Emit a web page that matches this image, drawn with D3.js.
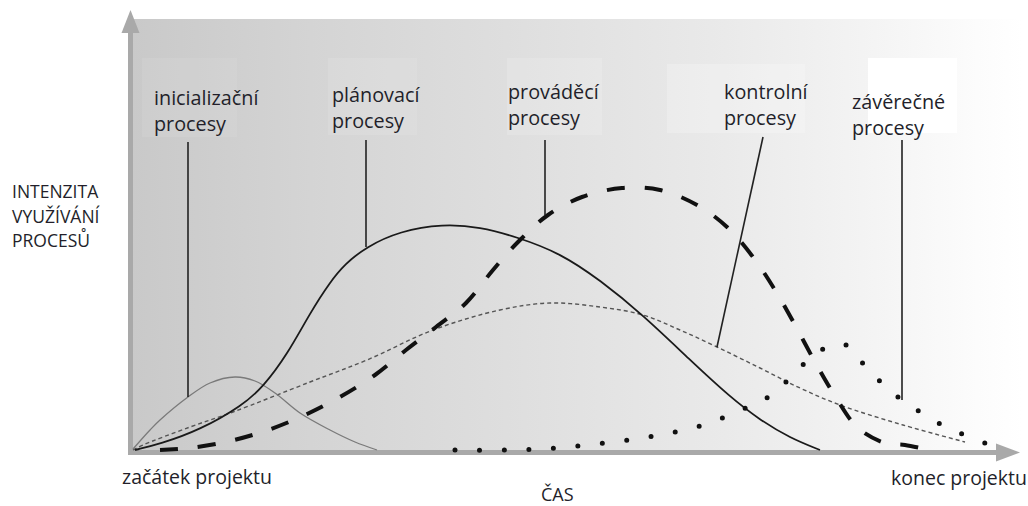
<!DOCTYPE html>
<html>
<head>
<meta charset="utf-8">
<script src="https://cdn.jsdelivr.net/npm/d3@7"></script>
<style>
  body { margin: 0; background: #fff; }
  svg { display: block; }
  text { font-family: "Open Sans", sans-serif; fill: #231f2a; }
</style>
</head>
<body>
<svg id="chart" width="1028" height="506"></svg>
<script>
// Process-group intensity over project time (time 0–88.8, intensity 0–43)
const initiating = [[0.1,0.1],[1.8,2.0],[2.8,3.0],[5.6,5.3],[7.8,6.7],[10.3,7.3],[12.3,6.9],[14.3,5.7],[16.8,3.7],[19.8,2.0],[22.3,0.8],[24.5,0]];
const planning = [[0.3,0],[2.8,0.6],[6.8,2.0],[11.1,4.5],[13.1,6.3],[15.5,9.5],[17.8,13.7],[19.8,16.8],[21.3,18.6],[23.4,20.3],[26.8,21.9],[31.1,22.6],[34.8,22.3],[38.5,21.3],[42.8,19.7],[46.8,17.0],[51.1,13.5],[55.8,9.0],[59.8,5.3],[62.8,3.0],[65.8,1.2],[68.8,0]];
const executing = [[2.8,0],[5.8,0.2],[9.8,0.9],[13.6,2.0],[17.3,3.5],[20.8,5.3],[24.3,7.5],[27.4,10.0],[30.4,12.3],[33.4,14.7],[36.1,18.0],[38.6,20.8],[41.6,23.5],[45.0,25.3],[49.0,26.2],[52.8,26.0],[56.5,24.5],[59.5,22.3],[62.1,19.3],[64.3,16.0],[66.3,12.5],[68.3,8.8],[70.3,5.4],[72.6,2.2],[75.3,0.7],[77.3,0.5],[79.3,0.1]];
const controlling = [[0.1,0],[1.1,0.5],[5.8,2.3],[10.1,3.8],[17.8,6.8],[23.5,9.0],[30.1,12.0],[36.8,14.0],[41.8,14.7],[46.8,14.3],[51.1,13.5],[54.8,12.0],[58.5,10.3],[62.8,8.2],[66.8,6.2],[70.8,4.5],[77.1,2.5],[83.3,0.8]];
const closing = [[32.3,0],[37.5,0],[42.4,0.2],[47.3,0.7],[52.2,1.4],[57.1,2.5],[61.6,4.3],[63.8,5.4],[65.7,7.1],[67.4,8.8],[69.5,10.3],[70.8,10.6],[71.8,10.3],[73.3,8.4],[75.1,6.6],[77.0,5.0],[79.0,3.7],[81.2,2.4],[83.5,1.4],[85.8,0.5]];

// Process group names and where each leader line touches its curve
const groupLabels = [["inicializační","procesy"],["plánovací","procesy"],["prováděcí","procesy"],["kontrolní","procesy"],["závěrečné","procesy"]];
const leaderTargets = [[5.6,5.3],[23.4,20.3],[41.3,23.5],[58.5,10.3],[77.0,5.0]];
const leaderTops = [[5.6,30.8],[23.4,31.0],[41.3,31.0],[63.1,31.3],[77.0,31.0]];

const yTitle = ["INTENZITA","VYUŽÍVÁNÍ","PROCESŮ"];
const xStartLabel = "začátek projektu";
const xEndLabel = "konec projektu";
const xTitle = "ČAS";

const svg = d3.select("#chart");
const x = d3.scaleLinear().domain([0, 88.8]).range([132, 1020]);
const y = d3.scaleLinear().domain([0, 43]).range([450, 20]);

// background wash, grey on the left fading to white on the right
const defs = svg.append("defs");
const grad = defs.append("linearGradient").attr("id","wash").attr("x1","0").attr("x2","1").attr("y1","0").attr("y2","0");
[[0,"#c9c9c9"],[0.2,"#d4d4d4"],[0.42,"#dedede"],[0.65,"#e9e9e9"],[0.82,"#f3f3f3"],[0.95,"#fcfcfc"],[1,"#ffffff"]]
  .forEach(([o,c]) => grad.append("stop").attr("offset",o).attr("stop-color",c));
svg.append("rect").attr("x",132).attr("y",19).attr("width",890).attr("height",432).attr("fill","url(#wash)");

// faint panels behind the group labels
const panels = [[142,58,95,79,0.08],[328,58,89,77,0.1],[507,58,95,77,0.15],[667,64,138,69,0.22],[868,58,89,75,1]];
svg.append("g").selectAll("rect").data(panels).join("rect")
  .attr("x",d=>d[0]).attr("y",d=>d[1]).attr("width",d=>d[2]).attr("height",d=>d[3])
  .attr("fill","#fff").attr("fill-opacity",d=>d[4]);

// axes: thick grey arrows without ticks
const axisColor = "#a9a9a9";
const gx = svg.append("g").attr("transform","translate(0,452.5)")
  .call(d3.axisBottom(x).tickValues([]).tickSizeOuter(0));
gx.select(".domain").attr("stroke",axisColor).attr("stroke-width",5).attr("d",`M${x(0)-4},0H${x(86.6)}`);
const gy = svg.append("g").attr("transform","translate(130.5,0)")
  .call(d3.axisLeft(y).tickValues([]).tickSizeOuter(0));
gy.select(".domain").attr("stroke",axisColor).attr("stroke-width",5).attr("d",`M0,${y(0)+5}V${y(43)+12}`);
svg.append("path").attr("fill",axisColor)
  .attr("d",`M${x(88.8)},452.5L${x(86.4)},443.5L${x(86.4)},461.5Z`);
svg.append("path").attr("fill",axisColor)
  .attr("d",`M130.5,10L121.5,33L139.5,33Z`);

const line = d3.line().x(d=>x(d[0])).y(d=>y(d[1])).curve(d3.curveCatmullRom.alpha(0.5));
const smoothLine = d3.line().x(d=>x(d[0])).y(d=>y(d[1])).curve(d3.curveBasis);

const curves = svg.append("g").attr("fill","none");
curves.append("path").datum(controlling).attr("d",line)
  .attr("stroke","#555").attr("stroke-width",1.4).attr("stroke-dasharray","4 3");
curves.append("path").datum(initiating).attr("d",line)
  .attr("stroke","#7a7a7a").attr("stroke-width",1.3);
curves.append("path").datum(planning).attr("d",smoothLine)
  .attr("stroke","#1a1a1a").attr("stroke-width",1.8);
curves.append("path").datum(executing).attr("d",line)
  .attr("stroke","#111").attr("stroke-width",4).attr("stroke-dasharray","18 20");
curves.append("path").datum(closing).attr("d",line)
  .attr("stroke","#111").attr("stroke-width",5).attr("stroke-linecap","round").attr("stroke-dasharray","0 24.6");

// leader lines from labels to curves
svg.append("g").selectAll("line").data(leaderTargets).join("line")
  .attr("x1",(d,i)=>x(leaderTops[i][0])).attr("y1",(d,i)=>y(leaderTops[i][1]))
  .attr("x2",d=>x(d[0])).attr("y2",d=>y(d[1]))
  .attr("stroke","#222").attr("stroke-width",1.6);

// group labels
const labelAnchors = [[154,105],[332,102],[508,99],[724,99],[852,109]];
const lg = svg.append("g").style("font-size","19.8px");
groupLabels.forEach((lines,i) => {
  const t = lg.append("text").attr("x",labelAnchors[i][0]).attr("y",labelAnchors[i][1]);
  lines.forEach((s,j) => t.append("tspan").attr("x",labelAnchors[i][0]).attr("dy", j ? 25.5 : 0).text(s));
});

// axis titles
const yt = svg.append("text").attr("x",12).attr("y",198).style("font-size","17.5px");
yTitle.forEach((s,j) => yt.append("tspan").attr("x",12).attr("dy", j ? 24.5 : 0).text(s));
svg.append("text").attr("x",122).attr("y",484).style("font-size","19.5px").text(xStartLabel);
svg.append("text").attr("x",891).attr("y",485).style("font-size","19.5px").text(xEndLabel);
svg.append("text").attr("x",541).attr("y",501).style("font-size","18px").text(xTitle);
</script>
</body>
</html>
